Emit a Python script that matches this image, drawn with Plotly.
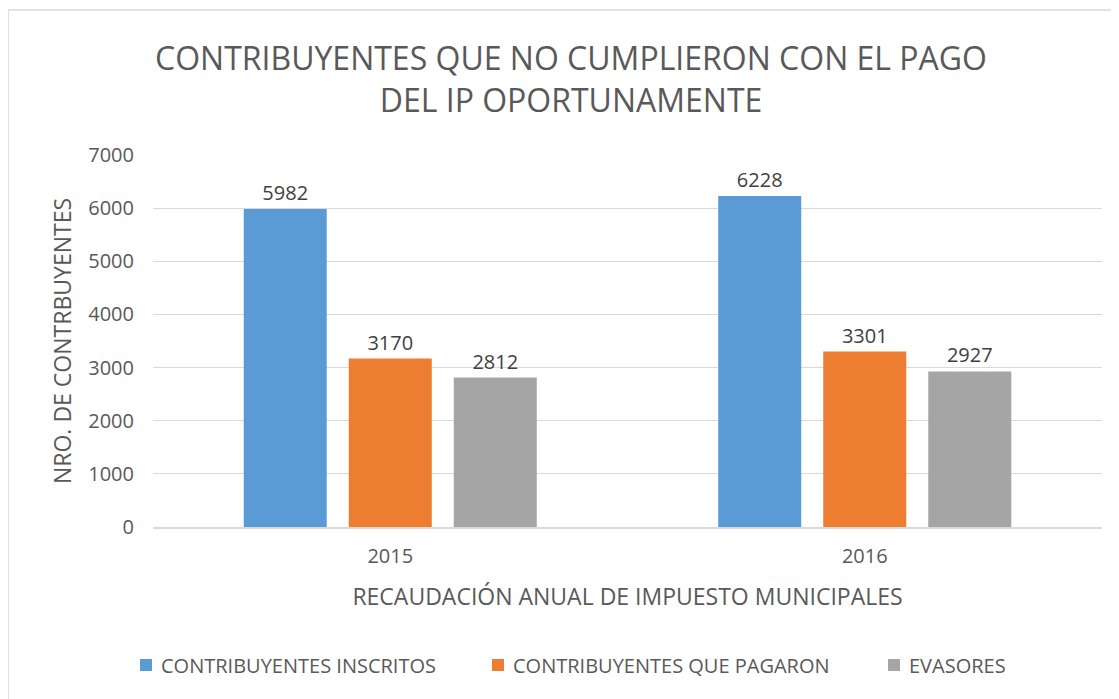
import plotly.graph_objects as go

years = ["2015", "2016"]
inscritos = [5982, 6228]
pagaron = [3170, 3301]
evasores = [2812, 2927]
series_names = ["CONTRIBUYENTES INSCRITOS", "CONTRIBUYENTES QUE PAGARON", "EVASORES"]
colors = ["#5B9BD5", "#ED7D31", "#A5A5A5"]
y_ticks = [0, 1000, 2000, 3000, 4000, 5000, 6000, 7000]

FONT = "Open Sans, Liberation Sans, sans-serif"
TXT = "#595959"

# page has an 8px body margin; figure coords = screen coords - 8
OFF = 8
W, H = 1111, 691
L, R, T, B = 153 - OFF, W - (1102 - OFF), 155 - OFF, 172
pw, ph = W - L - R, H - T - B
BARGAP, GROUPGAP = 0.336, 0.2095

def px(x):
    return (x - OFF - L) / pw

def py(y):
    return (H - B - (y - OFF)) / ph

fig = go.Figure()
all_vals = [inscritos, pagaron, evasores]
for name, vals, col in zip(series_names, all_vals, colors):
    fig.add_trace(go.Bar(
        x=years, y=vals, name=name, marker=dict(color=col, line=dict(width=0)),
        text=[str(v) for v in vals], textposition="outside", cliponaxis=False,
        textfont=dict(size=20, color="#404040", family=FONT),
        showlegend=False,
    ))

# legend drawn as swatches + labels
legend_swatch_left = [140, 492, 888]
LEG_Y, SW = 665, 12
for name, col, xl in zip(series_names, colors, legend_swatch_left):
    fig.add_shape(type="rect", xref="paper", yref="paper",
                  x0=px(xl), x1=px(xl + SW), y0=py(LEG_Y + SW / 2), y1=py(LEG_Y - SW / 2),
                  line=dict(width=0), fillcolor=col)
    fig.add_annotation(xref="paper", yref="paper", x=px(xl + SW + 7), y=py(LEG_Y),
                       xanchor="left", yanchor="middle", showarrow=False, text=name,
                       font=dict(size=20, color=TXT, family=FONT))

fig.update_layout(
    width=W, height=H,
    margin=dict(l=L, r=R, t=T, b=B),
    paper_bgcolor="white", plot_bgcolor="white",
    font=dict(family=FONT, color=TXT, size=20),
    title=dict(text="CONTRIBUYENTES QUE NO CUMPLIERON CON EL PAGO<br>DEL IP OPORTUNAMENTE",
               x=(571 - OFF) / W, xanchor="center", y=1 - (70 - OFF) / H, yanchor="middle",
               font=dict(size=32, color=TXT, family=FONT)),
    barmode="group", bargap=BARGAP, bargroupgap=GROUPGAP,
    showlegend=False,
    xaxis=dict(type="category", range=[-0.5, 1.5], autorange=False,
               showgrid=False, showline=True, linecolor="#D9D9D9", linewidth=1.5,
               ticks="outside", ticklen=10, tickcolor="rgba(0,0,0,0)",
               tickfont=dict(size=20, color=TXT),
               title=dict(text="RECAUDACIÓN ANUAL DE IMPUESTO MUNICIPALES",
                          font=dict(size=23, color=TXT), standoff=21)),
    yaxis=dict(range=[0, 7000], tickvals=y_ticks, showgrid=True, gridcolor="#D9D9D9",
               gridwidth=1, zeroline=False, ticks="", tickfont=dict(size=20, color=TXT),
               ticklabelstandoff=18,
               title=dict(text="NRO. DE CONTRBUYENTES", font=dict(size=23, color=TXT), standoff=10)),
)

fig.add_shape(type="rect", xref="paper", yref="paper",
              x0=px(8), x1=px(1140), y0=py(720), y1=py(10),
              line=dict(color="#D9D9D9", width=1.5), fillcolor="rgba(0,0,0,0)", layer="below")

fig.write_html("out.html")
